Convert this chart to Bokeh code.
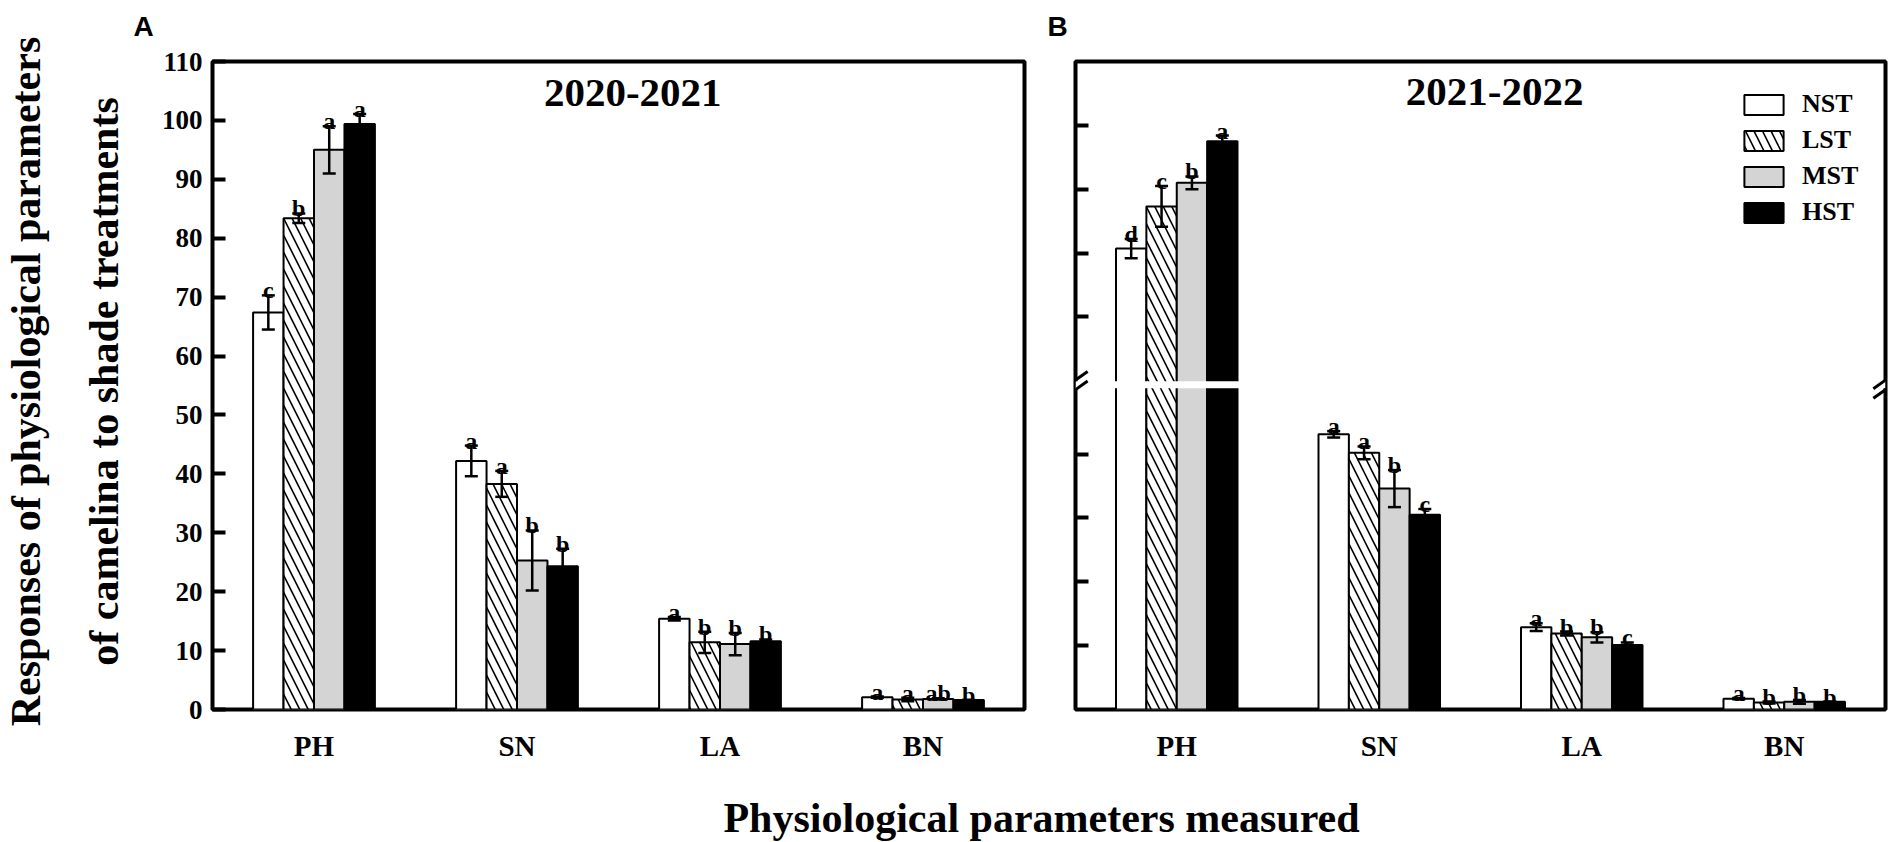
import math
from bokeh.plotting import figure
from bokeh.models import (ColumnDataSource, FactorRange, Range1d, FixedTicker, Whisker, TeeHead,
                          Label, Legend, LegendItem, BoxAnnotation, Arrow)
from bokeh.transform import dodge
from bokeh.layouts import column, row
from bokeh.embed import file_html
from bokeh.resources import INLINE

# ---------------- data ----------------
categories = ["PH", "SN", "LA", "BN"]
treatments = ["NST", "LST", "MST", "HST"]

# 2020-2021 (panel A)
a_nst = [67.4, 42.2, 15.4, 2.1]
a_lst = [83.4, 38.3, 11.4, 1.7]
a_mst = [95.0, 25.3, 11.1, 1.8]
a_hst = [99.4, 24.3, 11.6, 1.6]
a_nst_se = [2.9, 2.6, 0.3, 0.1]
a_lst_se = [0.8, 2.2, 1.8, 0.3]
a_mst_se = [4.0, 5.1, 1.9, 0.1]
a_hst_se = [1.7, 3.0, 0.3, 0.05]
a_nst_let = ["c", "a", "a", "a"]
a_lst_let = ["b", "a", "b", "a"]
a_mst_let = ["a", "b", "b", "ab"]
a_hst_let = ["a", "b", "b", "b"]

# 2021-2022 (panel B)
b_nst = [80.7, 43.1, 12.9, 1.7]
b_lst = [87.3, 40.2, 11.9, 1.1]
b_mst = [91.0, 34.6, 11.3, 1.2]
b_hst = [97.5, 30.5, 10.1, 1.2]
b_nst_se = [1.5, 0.5, 0.6, 0.1]
b_lst_se = [3.2, 1.0, 0.3, 0.15]
b_mst_se = [1.0, 2.9, 0.8, 0.3]
b_hst_se = [0.9, 0.9, 0.4, 0.05]
b_nst_let = ["d", "a", "a", "a"]
b_lst_let = ["c", "a", "b", "b"]
b_mst_let = ["b", "b", "b", "b"]
b_hst_let = ["a", "c", "c", "b"]

a_ticks = [0, 10, 20, 30, 40, 50, 60, 70, 80, 90, 100, 110]
b_ticks = [10, 20, 30, 40, 70, 80, 90, 100]

title_a = "2020-2021"
title_b = "2021-2022"
ytitle_1 = "Responses of physiological parameters"
ytitle_2 = "of camelina to shade treatments"
xtitle = "Physiological parameters measured"

# ---------------- style ----------------
SERIF = "Liberation Serif"
SANS = "Liberation Sans"
OFFSETS = [-0.225, -0.075, 0.075, 0.225]
BAR_W = 0.15
FILLS = ["white", "white", "#d4d4d4", "black"]
HATCH = [None, "\\", None, None]
FRAME_H = 648.0
PAD_PX = 5.0

# broken axis for panel B
B_BREAK = 55.0      # real values above this belong to the upper segment
B_OFFSET = 8.5      # upper segment shift
B_MID = 50.85       # break position in plot coordinates


def ident(v):
    return v


def b_plot(v):
    return v - B_OFFSET if v > B_BREAK else v


def make_fig(width, border_left, ymax):
    p = figure(width=width, height=725, x_range=FactorRange(*categories),
               y_range=Range1d(0, ymax), output_backend="svg", toolbar_location=None,
               min_border_left=border_left, min_border_right=11, min_border_top=16,
               min_border_bottom=61)
    p.xgrid.visible = False
    p.ygrid.visible = False
    p.outline_line_color = "black"
    p.outline_line_width = 4
    p.outline_line_alpha = 1
    p.background_fill_color = "white"
    p.border_fill_color = "white"
    xa = p.xaxis[0]
    xa.axis_line_color = None
    xa.major_tick_line_color = None
    xa.minor_tick_line_color = None
    xa.major_label_standoff = 14
    xa.major_label_text_font = SERIF
    xa.major_label_text_font_style = "bold"
    xa.major_label_text_font_size = "29px"
    xa.major_label_text_color = "black"
    ya = p.yaxis[0]
    ya.axis_line_color = None
    ya.major_tick_in = 13
    ya.major_tick_out = 0
    ya.major_tick_line_width = 4
    ya.major_tick_line_color = "black"
    ya.minor_tick_line_color = None
    ya.major_label_standoff = 10
    ya.major_label_text_font = SERIF
    ya.major_label_text_font_style = "bold"
    ya.major_label_text_font_size = "27px"
    ya.major_label_text_color = "black"
    return p


def draw_bars(p, vals, ses, lets, fy, ymax):
    pad = PAD_PX * ymax / FRAME_H
    rends = []
    for i in range(len(treatments)):
        v, s = vals[i], ses[i]
        src = ColumnDataSource(dict(
            cat=categories,
            top=[fy(x) for x in v],
            upper=[fy(x + e) for x, e in zip(v, s)],
            lower=[fy(x - e) for x, e in zip(v, s)],
            lab_y=[fy(x + e) + pad for x, e in zip(v, s)],
            letter=lets[i],
        ))
        xs = dodge("cat", OFFSETS[i], range=p.x_range)
        kw = {}
        if HATCH[i]:
            kw = dict(hatch_pattern=HATCH[i], hatch_color="black", hatch_weight=1.6, hatch_scale=17)
        r = p.vbar(x=xs, top="top", bottom=0, width=BAR_W, source=src,
                   fill_color=FILLS[i], line_color="black", line_width=2, **kw)
        rends.append(r)
        w = Whisker(base=xs, upper="upper", lower="lower", source=src,
                    line_width=2.5, line_color="black",
                    upper_head=TeeHead(size=13, line_width=2.5, line_color="black"),
                    lower_head=TeeHead(size=13, line_width=2.5, line_color="black"),
                    level="annotation")
        p.add_layout(w)
        p.text(x=xs, y="lab_y", text="letter", source=src, text_align="center",
               text_baseline="alphabetic", text_font={"value": SERIF},
               text_font_style="bold", text_font_size="24px", text_color="black")
    return rends


def add_label(p, x, y, text, size, font=SERIF, angle=0.0, align="center", baseline="middle"):
    p.add_layout(Label(x=x, y=y, text=text, angle=angle, text_align=align,
                       text_baseline=baseline, text_font=font, text_font_style="bold",
                       text_font_size=size, text_color="black"))


def blank_fig(w, h):
    f = figure(width=w, height=h, x_range=Range1d(0, w), y_range=Range1d(0, h),
               x_axis_location=None, y_axis_location=None, output_backend="svg",
               toolbar_location=None, min_border=0)
    f.outline_line_color = None
    f.grid.visible = False
    f.background_fill_color = "white"
    f.border_fill_color = "white"
    return f


# ---------------- left strip: y title and panel tag A ----------------
pY = blank_fig(158, 842)
add_label(pY, 25, 461, ytitle_1, "42px", angle=math.pi / 2)
add_label(pY, 103, 461, ytitle_2, "42px", angle=math.pi / 2)
add_label(pY, 133, 816, "A", "28px", font=SANS, align="left", baseline="middle")

# ---------------- top strip: panel tag B ----------------
pTop = blank_fig(1738, 45)
add_label(pTop, 889, 19, "B", "28px", font=SANS, align="left", baseline="middle")

# ---------------- panel A ----------------
pA = make_fig(877, 54, 110)
pA.yaxis[0].ticker = FixedTicker(ticks=a_ticks)
draw_bars(pA, [a_nst, a_lst, a_mst, a_hst], [a_nst_se, a_lst_se, a_mst_se, a_hst_se],
          [a_nst_let, a_lst_let, a_mst_let, a_hst_let], ident, 110)
add_label(pA, 2.07, 104.7, title_a, "41px")

# ---------------- panel B ----------------
b_ymax = 110 - B_OFFSET
pB = make_fig(861, 40, b_ymax)
b_tick_pos = [b_plot(t) for t in b_ticks]
pB.yaxis[0].ticker = FixedTicker(ticks=b_tick_pos)
pB.yaxis[0].major_label_overrides = {t: "" for t in b_tick_pos}
rB = draw_bars(pB, [b_nst, b_lst, b_mst, b_hst], [b_nst_se, b_lst_se, b_mst_se, b_hst_se],
               [b_nst_let, b_lst_let, b_mst_let, b_hst_let], b_plot, b_ymax)
add_label(pB, 2.07, 96.8, title_b, "41px")

# axis break
pB.add_layout(BoxAnnotation(bottom=B_MID - 0.55, top=B_MID + 0.55, fill_color="white",
                            fill_alpha=1, line_color=None, level="annotation"))
for xe in (0.0, 4.0):
    for dy in (-0.75, 0.75):
        pB.add_layout(Arrow(x_start=xe - 0.06, y_start=B_MID + dy - 1.35,
                            x_end=xe + 0.06, y_end=B_MID + dy + 1.35,
                            line_width=3, line_color="black", start=None, end=None))

legend = Legend(items=[LegendItem(label=t, renderers=[r]) for t, r in zip(treatments, rB)],
                location=(664, 482), orientation="vertical", glyph_width=49, glyph_height=25,
                label_standoff=14, spacing=6, padding=0, margin=0,
                border_line_color=None, background_fill_alpha=0,
                label_text_font=SERIF, label_text_font_style="bold",
                label_text_font_size="26px", label_text_color="black")
pB.add_layout(legend)

# ---------------- bottom strip: x title ----------------
pT = blank_fig(1738, 72)
add_label(pT, 883, 25, xtitle, "42px")

layout = row(pY, column(pTop, row(pA, pB), pT))
open("out.html", "w").write(file_html(layout, INLINE))
